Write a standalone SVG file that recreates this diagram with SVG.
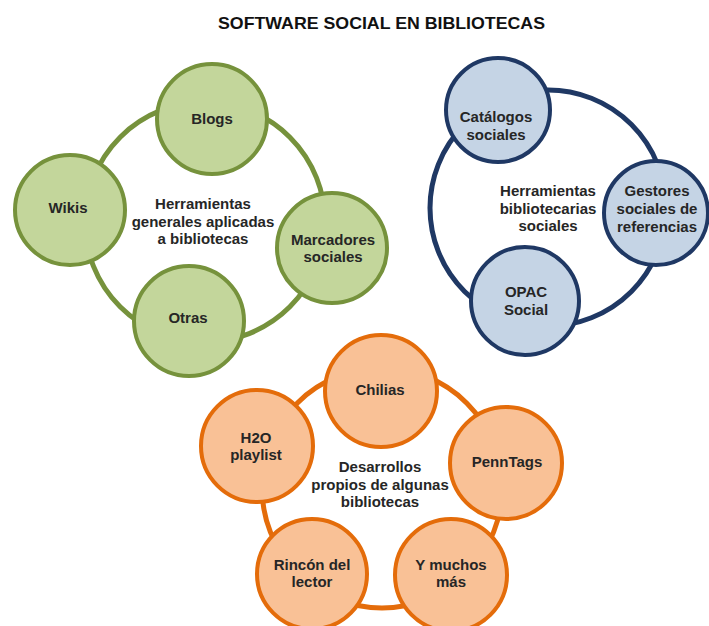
<svg xmlns="http://www.w3.org/2000/svg" width="709" height="626" viewBox="0 0 709 626">
<style>
text{font-family:"Liberation Sans",Arial,sans-serif;font-weight:bold;font-size:15px;fill:#262626;text-anchor:middle}
.title{font-size:16.5px;fill:#111}
.ring{fill:none;stroke-width:5}
.g{fill:#c3d69b;stroke:#76923c;stroke-width:4}
.b{fill:#c5d4e5;stroke:#1f3864;stroke-width:4}
.o{fill:#f9c196;stroke:#e46c0a;stroke-width:4}
</style>
<rect width="709" height="626" fill="#fff"/>
<text class="title" x="381.5" y="29" textLength="327" lengthAdjust="spacingAndGlyphs">SOFTWARE SOCIAL EN BIBLIOTECAS</text>
<g id="connectors">
<circle class="ring" cx="205" cy="222" r="120" stroke="#76923c"/>
<circle class="ring" cx="548" cy="208" r="118" stroke="#1f3864"/>
<circle class="ring" cx="382" cy="488" r="120" stroke="#e46c0a"/>
</g>
<g id="green-center">
<text x="203" y="209">Herramientas</text>
<text x="203" y="226.5">generales aplicadas</text>
<text x="203" y="244">a bibliotecas</text>
</g>
<g id="blogs"><circle class="g" cx="212" cy="119" r="55"/><text x="212" y="124">Blogs</text></g>
<g id="wikis"><circle class="g" cx="70" cy="210" r="55"/><text x="68" y="213">Wikis</text></g>
<g id="marcadores"><circle class="g" cx="332" cy="248" r="55"/><text x="333" y="245">Marcadores</text><text x="333" y="262">sociales</text></g>
<g id="otras"><circle class="g" cx="189" cy="321" r="55"/><text x="188" y="323">Otras</text></g>
<g id="blue-center">
<text x="548" y="196">Herramientas</text>
<text x="548" y="213.5">bibliotecarias</text>
<text x="548" y="231">sociales</text>
</g>
<g id="catalogos"><circle class="b" cx="498" cy="110" r="52"/><text x="496" y="122">Catálogos</text><text x="496" y="140">sociales</text></g>
<g id="gestores"><circle class="b" cx="656" cy="213" r="52"/><text x="657" y="196">Gestores</text><text x="657" y="214">sociales de</text><text x="657" y="232">referencias</text></g>
<g id="opac"><circle class="b" cx="525" cy="301" r="54"/><text x="526" y="297">OPAC</text><text x="526" y="315">Social</text></g>
<g id="orange-center">
<text x="380" y="472">Desarrollos</text>
<text x="380" y="489.5">propios de algunas</text>
<text x="380" y="507">bibliotecas</text>
</g>
<g id="chilias"><circle class="o" cx="381" cy="391" r="56"/><text x="380" y="395">Chilias</text></g>
<g id="h2o"><circle class="o" cx="257" cy="446" r="56"/><text x="256" y="443">H2O</text><text x="256" y="460">playlist</text></g>
<g id="penntags"><circle class="o" cx="506" cy="463" r="56"/><text x="507" y="467">PennTags</text></g>
<g id="muchos"><circle class="o" cx="451" cy="575" r="56"/><text x="451" y="570">Y muchos</text><text x="451" y="587">más</text></g>
<g id="rincon"><circle class="o" cx="312" cy="574" r="55"/><text x="312" y="570">Rincón del</text><text x="312" y="587">lector</text></g>
</svg>
